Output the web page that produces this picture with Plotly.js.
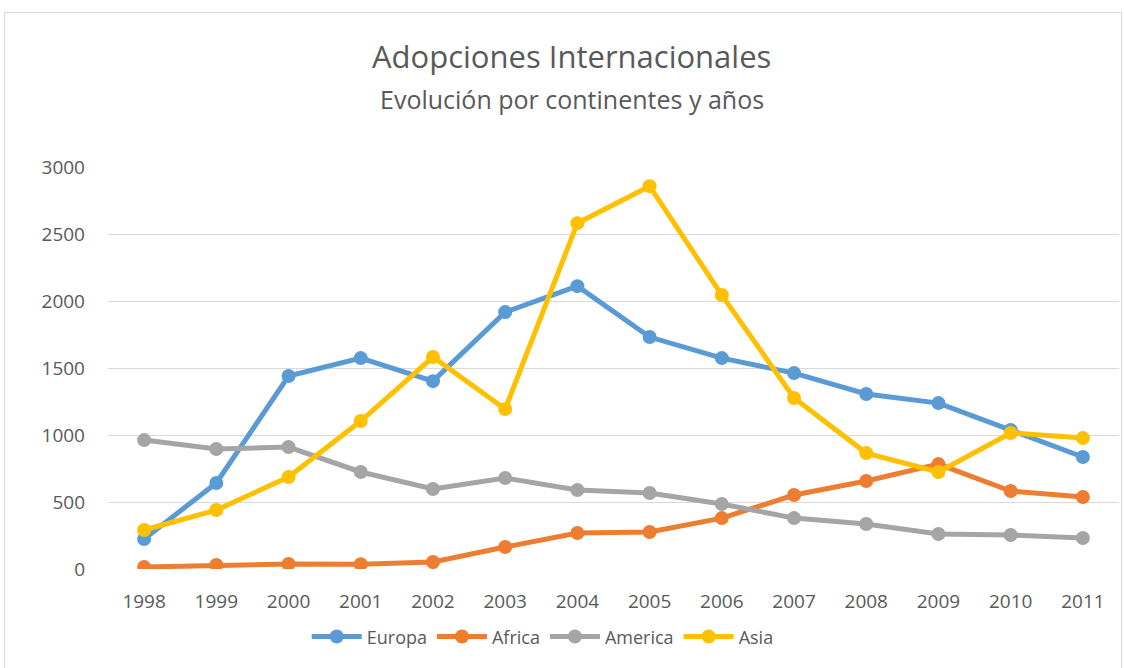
<!DOCTYPE html>
<html>
<head>
<meta charset="utf-8">
<script src="https://cdn.plot.ly/plotly-3.0.1.min.js"></script>
<style>
html,body{margin:0;padding:0;background:#fff;}
#frame{position:absolute;left:4px;top:12px;width:1118px;height:660px;border:1px solid #d9d9d9;box-sizing:border-box;}
#chart{position:absolute;left:0;top:0;width:1124px;height:668px;}
</style>
</head>
<body>
<div id="frame"></div>
<div id="chart"></div>
<script>
var years = ['1998','1999','2000','2001','2002','2003','2004','2005','2006','2007','2008','2009','2010','2011'];
var europa = [224, 642, 1440, 1574, 1402, 1917, 2111, 1731, 1574, 1462, 1306, 1238, 1037, 836];
var africa = [15, 30, 37, 35, 52, 164, 269, 276, 380, 552, 657, 783, 582, 537];
var america = [962, 895, 910, 724, 597, 679, 589, 567, 485, 380, 336, 261, 254, 231];
var asia = [291, 440, 686, 1104, 1582, 1194, 2581, 2857, 2044, 1276, 865, 724, 1015, 977];

var seriesNames = ['Europa','Africa','America','Asia'];
var seriesData = [europa, africa, america, asia];
var colors = ['#5B9BD5','#ED7D31','#A5A5A5','#FFC000'];
var titleText = 'Adopciones Internacionales';
var subtitleText = 'Evolución por continentes y años';

var traces = seriesNames.map(function(n,i){
  return {x: years, y: seriesData[i], name: n, type:'scatter', mode:'lines+markers',
    line:{color:colors[i], width:5}, marker:{color:colors[i], size:14}};
});

var layout = {
  width:1124, height:668,
  paper_bgcolor:'rgba(0,0,0,0)', plot_bgcolor:'rgba(0,0,0,0)',
  font:{family:'Open Sans, sans-serif', color:'#595959', size:19},
  margin:{l:108, r:5, t:167, b:99},
  annotations:[
    {text:titleText, xref:'paper', yref:'paper', x:0.458, y:(668-56-99)/402, xanchor:'center', yanchor:'middle',
      showarrow:false, font:{size:31, color:'#595959'}},
    {text:subtitleText, xref:'paper', yref:'paper', x:0.459, y:(668-99-99)/402, xanchor:'center', yanchor:'middle',
      showarrow:false, font:{size:25, color:'#595959'}}
  ],
  xaxis:{type:'category', range:[-0.5, 13.5], showgrid:false, zeroline:false, showline:false, ticks:'',
    ticklabelstandoff:19, tickfont:{size:19, color:'#595959'}},
  yaxis:{range:[0,3000], dtick:500, showgrid:true, gridcolor:'#D9D9D9', gridwidth:1.3, zeroline:false,
    showline:false, ticks:'', ticklabelstandoff:22, tickfont:{size:19, color:'#595959'}},
  showlegend:true,
  legend:{orientation:'h', x:0.43, xanchor:'center', y:-0.1226, yanchor:'top',
    font:{size:18, color:'#595959'}, itemwidth:50}
};
Plotly.newPlot('chart', traces, layout, {displayModeBar:false});
</script>
</body>
</html>
